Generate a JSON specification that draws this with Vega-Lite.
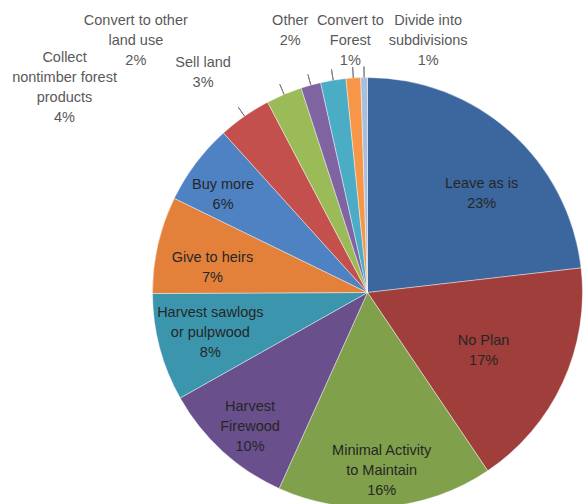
{
  "$schema": "https://vega.github.io/schema/vega-lite/v6.json",
  "width": 439,
  "height": 423,
  "autosize": {"type": "none"},
  "padding": {"left": 148, "top": 81, "right": 0, "bottom": 0},
  "background": "white",
  "view": {"stroke": null},
  "data": {
    "values": [
      {"rank": 1, "category": "Leave as is", "value": 23.2, "label": "Leave as is\n23%"},
      {"rank": 2, "category": "No Plan", "value": 17.4, "label": "No Plan\n17%"},
      {"rank": 3, "category": "Minimal Activity to Maintain", "value": 16.2, "label": "Minimal Activity\nto Maintain\n16%"},
      {"rank": 4, "category": "Harvest Firewood", "value": 10.1, "label": "Harvest\nFirewood\n10%"},
      {"rank": 5, "category": "Harvest sawlogs or pulpwood", "value": 8.1, "label": "Harvest sawlogs\nor pulpwood\n8%"},
      {"rank": 6, "category": "Give to heirs", "value": 7.3, "label": "Give to heirs\n7%"},
      {"rank": 7, "category": "Buy more", "value": 6.1, "label": "Buy more\n6%"},
      {"rank": 8, "category": "Collect nontimber forest products", "value": 4.0, "label": "Collect\nnontimber forest\nproducts\n4%"},
      {"rank": 9, "category": "Sell land", "value": 2.7, "label": "Sell land\n3%"},
      {"rank": 10, "category": "Convert to other land use", "value": 1.5, "label": "Convert to other\nland use\n2%"},
      {"rank": 11, "category": "Other", "value": 1.9, "label": "Other\n2%"},
      {"rank": 12, "category": "Convert to Forest", "value": 1.1, "label": "Convert to\nForest\n1%"},
      {"rank": 13, "category": "Divide into subdivisions", "value": 0.5, "label": "Divide into\nsubdivisions\n1%"}
    ]
  },
  "encoding": {
    "theta": {"field": "value", "type": "quantitative", "stack": true},
    "order": {"field": "rank", "type": "quantitative"}
  },
  "layer": [
    {
      "mark": {"type": "arc", "outerRadius": 215, "stroke": "#ffffff", "strokeWidth": 0.6, "strokeOpacity": 0.7},
      "encoding": {
        "color": {
          "field": "category", "type": "nominal", "legend": null,
          "scale": {
            "domain": ["Leave as is", "No Plan", "Minimal Activity to Maintain", "Harvest Firewood", "Harvest sawlogs or pulpwood", "Give to heirs", "Buy more", "Collect nontimber forest products", "Sell land", "Convert to other land use", "Other", "Convert to Forest", "Divide into subdivisions"],
            "range": ["#3B679E", "#A03E3B", "#80A04B", "#694F8B", "#3B95AD", "#E3813A", "#4F82C3", "#C4504D", "#9BBB59", "#8064A2", "#4BACC6", "#F79646", "#A8BEDD"]
          }
        }
      }
    },
    {
      "mark": {"type": "arc", "innerRadius": 215, "outerRadius": 226, "padAngle": 1, "filled": false, "stroke": "#7f7f7f", "strokeWidth": 1},
      "encoding": {
        "detail": {"field": "category"},
        "strokeOpacity": {"condition": {"test": "datum.rank >= 8", "value": 1}, "value": 0}
      }
    },
    {
      "mark": {"type": "text", "radius": 150.5, "dx": 14, "dy": 4, "align": "center", "baseline": "middle", "lineBreak": "\n", "lineHeight": 20, "font": "Liberation Sans", "fontSize": 14.5, "fill": "#262626"},
      "encoding": {"detail": {"field": "category"}, "text": {"condition": {"test": "datum.rank == 1", "field": "label"}, "value": ""}}
    },
    {
      "mark": {"type": "text", "radius": 130, "dx": -2, "dy": -6, "align": "center", "baseline": "middle", "lineBreak": "\n", "lineHeight": 20, "font": "Liberation Sans", "fontSize": 14.5, "fill": "#262626"},
      "encoding": {"detail": {"field": "category"}, "text": {"condition": {"test": "datum.rank == 2", "field": "label"}, "value": ""}}
    },
    {
      "mark": {"type": "text", "radius": 179, "dx": -1, "dy": -20, "align": "center", "baseline": "middle", "lineBreak": "\n", "lineHeight": 20, "font": "Liberation Sans", "fontSize": 14.5, "fill": "#262626"},
      "encoding": {"detail": {"field": "category"}, "text": {"condition": {"test": "datum.rank == 3", "field": "label"}, "value": ""}}
    },
    {
      "mark": {"type": "text", "radius": 178.5, "dx": 3, "dy": -17.5, "align": "center", "baseline": "middle", "lineBreak": "\n", "lineHeight": 20, "font": "Liberation Sans", "fontSize": 14.5, "fill": "#262626"},
      "encoding": {"detail": {"field": "category"}, "text": {"condition": {"test": "datum.rank == 4", "field": "label"}, "value": ""}}
    },
    {
      "mark": {"type": "text", "radius": 162.6, "dx": 0, "dy": -21, "align": "center", "baseline": "middle", "lineBreak": "\n", "lineHeight": 20, "font": "Liberation Sans", "fontSize": 14.5, "fill": "#262626"},
      "encoding": {"detail": {"field": "category"}, "text": {"condition": {"test": "datum.rank == 5", "field": "label"}, "value": ""}}
    },
    {
      "mark": {"type": "text", "radius": 157, "dx": -2, "dy": 0, "align": "center", "baseline": "middle", "lineBreak": "\n", "lineHeight": 20, "font": "Liberation Sans", "fontSize": 14.5, "fill": "#262626"},
      "encoding": {"detail": {"field": "category"}, "text": {"condition": {"test": "datum.rank == 6", "field": "label"}, "value": ""}}
    },
    {
      "mark": {"type": "text", "radius": 174.5, "dx": -5, "dy": -3, "align": "center", "baseline": "middle", "lineBreak": "\n", "lineHeight": 20, "font": "Liberation Sans", "fontSize": 14.5, "fill": "#262626"},
      "encoding": {"detail": {"field": "category"}, "text": {"condition": {"test": "datum.rank == 7", "field": "label"}, "value": ""}}
    },
    {
      "mark": {"type": "text", "radius": 215, "dx": -180, "dy": -58, "align": "center", "baseline": "middle", "lineBreak": "\n", "lineHeight": 20, "font": "Liberation Sans", "fontSize": 14.5, "fill": "#595959"},
      "encoding": {"detail": {"field": "category"}, "text": {"condition": {"test": "datum.rank == 8", "field": "label"}, "value": ""}}
    },
    {
      "mark": {"type": "text", "radius": 215, "dx": -81, "dy": -31, "align": "center", "baseline": "middle", "lineBreak": "\n", "lineHeight": 20, "font": "Liberation Sans", "fontSize": 14.5, "fill": "#595959"},
      "encoding": {"detail": {"field": "category"}, "text": {"condition": {"test": "datum.rank == 9", "field": "label"}, "value": ""}}
    },
    {
      "mark": {"type": "text", "radius": 215, "dx": -175, "dy": -64, "align": "center", "baseline": "middle", "lineBreak": "\n", "lineHeight": 20, "font": "Liberation Sans", "fontSize": 14.5, "fill": "#595959"},
      "encoding": {"detail": {"field": "category"}, "text": {"condition": {"test": "datum.rank == 10", "field": "label"}, "value": ""}}
    },
    {
      "mark": {"type": "text", "radius": 215, "dx": -43, "dy": -59, "align": "center", "baseline": "middle", "lineBreak": "\n", "lineHeight": 20, "font": "Liberation Sans", "fontSize": 14.5, "fill": "#595959"},
      "encoding": {"detail": {"field": "category"}, "text": {"condition": {"test": "datum.rank == 11", "field": "label"}, "value": ""}}
    },
    {
      "mark": {"type": "text", "radius": 215, "dx": -3, "dy": -57, "align": "center", "baseline": "middle", "lineBreak": "\n", "lineHeight": 20, "font": "Liberation Sans", "fontSize": 14.5, "fill": "#595959"},
      "encoding": {"detail": {"field": "category"}, "text": {"condition": {"test": "datum.rank == 12", "field": "label"}, "value": ""}}
    },
    {
      "mark": {"type": "text", "radius": 215, "dx": 64, "dy": -56.5, "align": "center", "baseline": "middle", "lineBreak": "\n", "lineHeight": 20, "font": "Liberation Sans", "fontSize": 14.5, "fill": "#595959"},
      "encoding": {"detail": {"field": "category"}, "text": {"condition": {"test": "datum.rank == 13", "field": "label"}, "value": ""}}
    }
  ]
}
